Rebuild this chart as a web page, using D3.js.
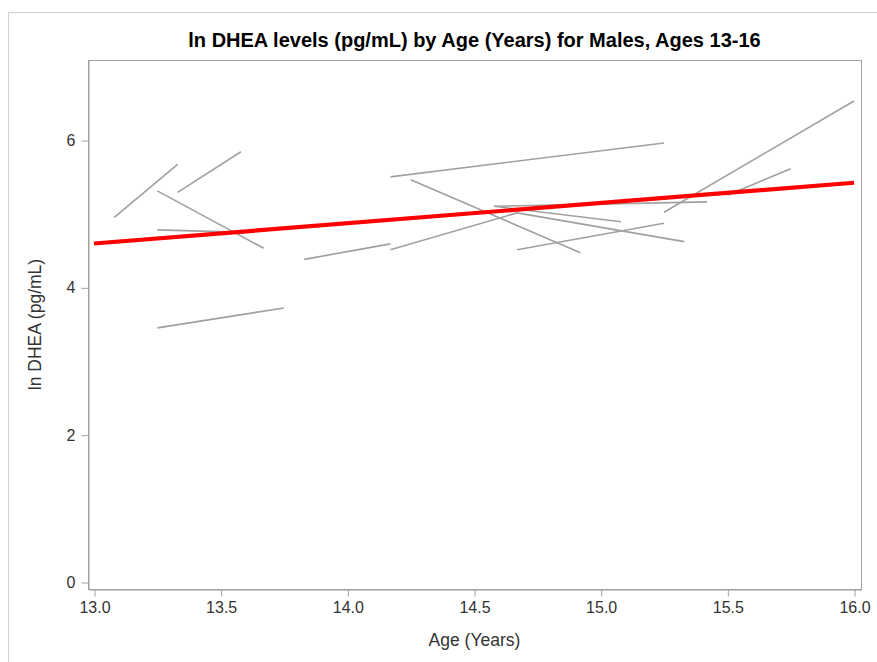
<!DOCTYPE html>
<html><head><meta charset="utf-8">
<script src="https://cdn.jsdelivr.net/npm/d3@7"></script>
<style>
body{margin:0;background:#fff;}
svg text{font-family:"Liberation Sans",Arial,sans-serif;}
</style></head>
<body><svg id="c" width="877" height="662"></svg>
<script>
// Individual subject trajectories (age in years, ln DHEA)
const subjectAges = [
  [13.08, 13.33],
  [13.33, 13.58],
  [13.25, 13.67],
  [13.25, 13.56],
  [13.25, 13.75],
  [13.83, 14.17],
  [14.17, 15.25],
  [14.25, 14.92],
  [14.17, 14.67, 15.33],
  [14.67, 15.25],
  [14.58, 15.42],
  [14.58, 15.08],
  [15.25, 16.0],
  [15.5, 15.75]
];
const subjectValues = [
  [4.95, 5.67],
  [5.29, 5.84],
  [5.31, 4.53],
  [4.78, 4.75],
  [3.45, 3.72],
  [4.38, 4.59],
  [5.50, 5.96],
  [5.46, 4.47],
  [4.51, 5.01, 4.62],
  [4.51, 4.87],
  [5.10, 5.16],
  [5.10, 4.89],
  [5.02, 6.53],
  [5.25, 5.61]
];
// Fitted mean line
const fitAges = [13.0, 16.0];
const fitValues = [4.595, 5.42];
const xTicks = [13.0, 13.5, 14.0, 14.5, 15.0, 15.5, 16.0];
const yTicks = [0, 2, 4, 6];

const svg = d3.select("#c");
const L = 88, R = 861, T = 60, B = 589;
const x = d3.scaleLinear().domain([12.9763, 16.0276]).range([L, R]);
const y = d3.scaleLinear().domain([-0.095, 7.086]).range([B, T]);

// outer frame
svg.append("rect").attr("x", 8.5).attr("y", 12.5).attr("width", 900).attr("height", 700)
  .attr("fill", "none").attr("stroke", "#d0d0d0").attr("stroke-width", 1);

// plot box
svg.append("rect").attr("x", L + 0.5).attr("y", T + 0.5).attr("width", R - L).attr("height", B - T)
  .attr("fill", "none").attr("stroke", "#a0a0a0").attr("stroke-width", 1);

// axes
const xAxis = d3.axisBottom(x).tickValues(xTicks).tickFormat(d3.format(".1f")).tickSizeOuter(0).tickSizeInner(7).tickPadding(5);
const gx = svg.append("g").attr("transform", `translate(0.5,${B + 0.5})`).call(xAxis);
const yAxis = d3.axisLeft(y).tickValues(yTicks).tickFormat(d3.format("d")).tickSizeOuter(0).tickSizeInner(7).tickPadding(6);
const gy = svg.append("g").attr("transform", `translate(${L + 0.5},0.5)`).call(yAxis);
[gx, gy].forEach(g => {
  g.select(".domain").attr("stroke", "#a0a0a0");
  g.selectAll(".tick line").attr("stroke", "#a0a0a0");
  g.selectAll(".tick text").attr("fill", "#333").style("font-size", "16px");
});

// subject lines
const line = d3.line().x(d => x(d[0])).y(d => y(d[1]));
const plot = svg.append("g");
subjectAges.forEach((ages, i) => {
  const pts = ages.map((a, j) => [a, subjectValues[i][j]]);
  plot.append("path").attr("d", line(pts)).attr("fill", "none")
    .attr("stroke", "#a0a0a0").attr("stroke-width", 1.6);
});
// fitted line
plot.append("path").attr("d", line(fitAges.map((a, j) => [a, fitValues[j]])))
  .attr("fill", "none").attr("stroke", "#ff0000").attr("stroke-width", 4.2);

// title & labels
svg.append("text").attr("x", (L + R) / 2).attr("y", 47).attr("text-anchor", "middle")
  .style("font-size", "20px").style("font-weight", "bold").attr("fill", "#000")
  .text("ln DHEA levels (pg/mL) by Age (Years) for Males, Ages 13-16");
svg.append("text").attr("x", (L + R) / 2).attr("y", 646).attr("text-anchor", "middle")
  .style("font-size", "17.5px").attr("fill", "#333").text("Age (Years)");
svg.append("text").attr("transform", `translate(41,${(T + B) / 2}) rotate(-90)`).attr("text-anchor", "middle")
  .style("font-size", "17.5px").attr("fill", "#333").text("ln DHEA (pg/mL)");
</script></body></html>
